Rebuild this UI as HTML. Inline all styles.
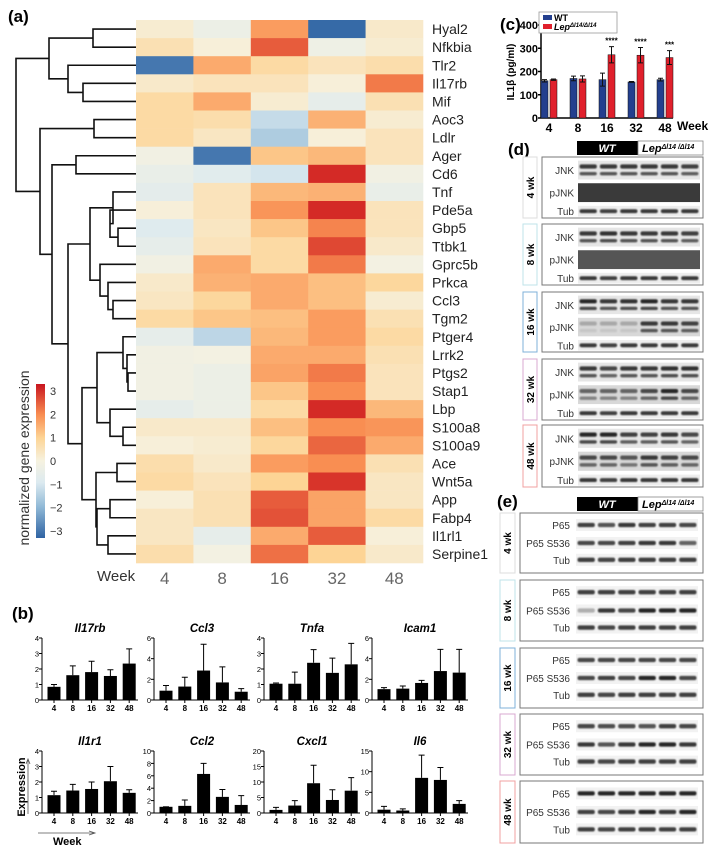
<!DOCTYPE html>
<html><head><meta charset="utf-8"><style>
html,body{margin:0;padding:0;background:#fff;}
svg{display:block;font-family:"Liberation Sans",Arial,sans-serif;}
</style></head><body>
<svg id="fig" width="714" height="853" viewBox="0 0 714 853" xmlns="http://www.w3.org/2000/svg">
<defs>
<linearGradient id="cbar" x1="0" y1="1" x2="0" y2="0">
<stop offset="0" stop-color="#2f63a3"/><stop offset="0.2" stop-color="#8fb8d6"/><stop offset="0.36" stop-color="#dceaf0"/><stop offset="0.5" stop-color="#f6f2e0"/><stop offset="0.65" stop-color="#fdd495"/><stop offset="0.8" stop-color="#f98e52"/><stop offset="1" stop-color="#c8151f"/>
</linearGradient>
<filter id="blur" x="-5%" y="-50%" width="110%" height="200%"><feGaussianBlur stdDeviation="0.8"/></filter>
</defs>
<g id="heat"></g>
<g id="barsB"></g>
<g id="chartC"></g>
<g id="blots"></g>
</svg>
<script>
const NS="http://www.w3.org/2000/svg";
function mk(p,tag,at,txt){const e=document.createElementNS(NS,tag);for(const k in at)e.setAttribute(k,at[k]);if(txt!==undefined)e.textContent=txt;p.appendChild(e);return e;}

// ===== Heatmap data =====
const genes=["Hyal2","Nfkbia","Tlr2","Il17rb","Mif","Aoc3","Ldlr","Ager","Cd6","Tnf","Pde5a","Gbp5","Ttbk1","Gprc5b","Prkca","Ccl3","Tgm2","Ptger4","Lrrk2","Ptgs2","Stap1","Lbp","S100a8","S100a9","Ace","Wnt5a","App","Fabp4","Il1rl1","Serpine1"];
const weeks=["4","8","16","32","48"];
const heatValues=[
[0.2,-0.4,1.8,-3.2,0.3],[0.6,0.1,2.5,-0.3,0.2],[-3.0,1.6,0.8,0.5,0.7],[0.3,0.5,0.5,0.1,2.2],
[0.8,1.6,0.2,-0.6,0.6],[0.8,0.7,-1.3,1.5,0.2],[0.8,0.4,-1.6,0.1,0.5],[-0.2,-3.0,1.2,1.4,0.5],
[-0.5,-0.8,-1.1,3.0,-0.2],[-0.7,0.5,1.4,1.5,-0.5],[0.1,0.5,1.9,3.0,0.5],[-0.9,0.4,1.2,2.1,0.5],
[-0.6,0.5,0.8,2.7,0.3],[-0.2,1.6,0.8,2.2,-0.1],[0.3,1.5,1.6,1.3,0.9],[0.4,0.9,1.6,1.3,0.2],
[0.8,1.2,1.3,1.8,0.6],[-0.6,-1.4,1.4,1.8,0.8],[-0.2,-0.1,1.6,1.6,0.6],[-0.2,-0.4,1.7,2.2,0.5],
[-0.2,-0.4,1.2,2.0,0.5],[-0.6,-0.4,0.8,3.0,1.4],[0.3,0.3,1.3,2.0,1.9],[0.1,0.2,0.9,2.4,1.6],
[0.7,0.3,1.8,2.0,0.6],[0.8,0.5,1.0,2.9,0.4],[0.1,0.6,2.5,1.7,0.4],[0.4,0.6,2.6,1.7,0.8],
[0.4,-0.6,1.6,2.5,0.1],[0.7,-0.1,2.3,1.0,0.3]];
const colorbarTicks=[3,2,1,0,-1,-2,-3];

const cStops=[[-3.3,[47,99,163]],[-2,[143,184,214]],[-1,[220,234,240]],[0,[246,242,224]],[1,[253,212,149]],[2,[249,142,82]],[3,[212,42,38]],[3.3,[200,21,31]]];
function cmap(v){v=Math.max(-3.3,Math.min(3.3,v));for(let i=0;i<cStops.length-1;i++){const a=cStops[i],b=cStops[i+1];if(v<=b[0]){const t=(v-a[0])/(b[0]-a[0]);return "rgb("+a[1].map((c,j)=>Math.round(c+(b[1][j]-c)*t)).join(",")+")";}}return "rgb(200,21,31)";}
const hx0=136,hx1=423,hy0=20,hy1=563;
const cw=(hx1-hx0)/weeks.length, rh=(hy1-hy0)/genes.length;
const heat=document.getElementById("heat");
mk(heat,"text",{x:8,y:22,"font-size":17,"font-weight":"bold",},"(a)");
heatValues.forEach((row,r)=>{row.forEach((v,c)=>{
 const e=mk(heat,"rect",{x:hx0+c*cw,y:hy0+r*rh,width:cw+0.3,height:rh+0.3,fill:cmap(v)});
 
 
});
 const t=mk(heat,"text",{x:432,y:hy0+r*rh+rh/2+5,"font-size":14,fill:"#222"},genes[r]);
 
 
});
mk(heat,"text",{x:97,y:581,"font-size":15,fill:"#333",},"Week");
weeks.forEach((w,c)=>{const t=mk(heat,"text",{x:hx0+c*cw+cw/2,y:584,"font-size":17,fill:"#666","text-anchor":"middle"},w);
 
 });
// colorbar
const cbTop=384,cbBot=538,cbScale=(cbBot-cbTop)/6.6;
mk(heat,"rect",{x:36,y:cbTop,width:9,height:cbBot-cbTop,fill:"url(#cbar)",});
colorbarTicks.forEach(v=>{const y=cbBot-(v+3.3)*cbScale;const t=mk(heat,"text",{x:50,y:y+4,"font-size":11,fill:"#333"},v<0?"\u2212"+(-v):String(v));
 
 });
mk(heat,"text",{x:0,y:0,"font-size":14,fill:"#333","text-anchor":"middle",transform:"translate(29,458) rotate(-90)",},"normalized gene expression");
// dendrogram
const A=[90,[113,9,[110,10,[118,11,12]]],[100,13,[108,14,[113,15,16]]]];
const Bg=[82,[97,[123,17,[127,18,[128,19,20]]],[110,21,[123,22,23]]],[96,[117,24,25],[97,[110,26,27],[108,28,29]]]];
const tree=[16,
 [49,[93,0,1],[68,2,[83,3,4]]],
 [40,[94,5,6],[52,[76,7,8],[68,A,Bg]]]];
const dg=mk(heat,"g",{stroke:"#111","stroke-width":1.6,fill:"none",});
function dd(n){if(typeof n==="number")return{x:hx0,y:hy0+n*rh+rh/2};const a=dd(n[1]),b=dd(n[2]);
 mk(dg,"path",{d:`M${a.x},${a.y}H${n[0]}V${b.y}H${b.x}`});return{x:n[0],y:(a.y+b.y)/2};}
dd(tree);

// ===== Panel b =====
const bTitles=["Il17rb","Ccl3","Tnfa","Icam1","Il1r1","Ccl2","Cxcl1","Il6"];
const bMeans=[[0.85,1.6,1.8,1.55,2.35],[0.9,1.3,2.85,1.7,0.8],[1.05,1.05,2.4,1.75,2.3],[1.05,1.1,1.65,2.8,2.65],
 [1.15,1.45,1.55,2.05,1.3],[1.0,1.15,6.3,2.6,1.3],[1.0,2.4,9.6,4.2,7.2],[0.8,0.6,8.5,8.0,2.2]];
const bErrTop=[[1.0,2.2,2.5,1.95,3.3],[1.4,2.2,5.4,3.2,1.1],[1.1,1.8,3.25,2.7,3.65],[1.2,1.35,1.9,4.9,4.9],
 [1.4,1.85,2.0,3.0,1.5],[1.0,2.1,8.0,3.8,2.8],[1.8,4.0,15.4,7.5,11.4],[1.6,1.0,14.0,11.0,3.0]];
const bTicks=[[0,1,2,3,4],[0,2,4,6],[0,1,2,3,4],[0,2,4,6],[0,1,2,3,4],[0,2,4,6,8,10],[0,5,10,15,20],[0,5,10,15]];
const bG=document.getElementById("barsB");
mk(bG,"text",{x:12,y:619,"font-size":17,"font-weight":"bold",},"(b)");
const bX=[42,154,264,372];
bTitles.forEach((ti,k)=>{
 const x0=bX[k%4], top=k<4?638:751, base=k<4?700:813, w=96;
 const g=mk(bG,"g",{});
 
 
 const max=bTicks[k][bTicks[k].length-1];
 const ys=v=>base-(v/max)*(base-top);
 mk(g,"text",{x:x0+w/2,y:top-6,"font-size":11.5,"font-weight":"bold","font-style":"italic","text-anchor":"middle"},ti);
 mk(g,"line",{x1:x0,y1:top,x2:x0,y2:base,stroke:"#000","stroke-width":1});
 mk(g,"line",{x1:x0,y1:base,x2:x0+w,y2:base,stroke:"#000","stroke-width":1});
 bTicks[k].forEach(v=>{mk(g,"line",{x1:x0-3,y1:ys(v),x2:x0,y2:ys(v),stroke:"#000"});
  mk(g,"text",{x:x0-3,y:ys(v)+3,"font-size":7.5,"text-anchor":"end"},v);});
 weeks.forEach((wk,i)=>{const cx=x0+12+i*18.8;
  const bar=mk(g,"rect",{x:cx-6.5,y:ys(bMeans[k][i]),width:13,height:base-ys(bMeans[k][i]),fill:"#000"});
  
  
  mk(g,"path",{d:`M${cx},${ys(bMeans[k][i])}V${ys(bErrTop[k][i])}M${cx-3},${ys(bErrTop[k][i])}H${cx+3}`,stroke:"#000","stroke-width":1,fill:"none"});
  mk(g,"line",{x1:cx,y1:base,x2:cx,y2:base+3,stroke:"#000"});
  mk(g,"text",{x:cx,y:base+11,"font-size":8,"font-weight":"bold","text-anchor":"middle"},wk);
 });
});
mk(bG,"text",{x:0,y:0,"font-size":11,"font-weight":"bold","text-anchor":"middle",transform:"translate(25,787) rotate(-90)",},"Expression");
mk(bG,"path",{d:"M28,814V760M26,764L28,759L30,764",stroke:"#555",fill:"none","stroke-width":0.8,});
mk(bG,"path",{d:"M38,833H94M89,831L95,833L89,835",stroke:"#555",fill:"none","stroke-width":0.8,});
mk(bG,"text",{x:53,y:845,"font-size":11,"font-weight":"bold",},"Week");

// ===== Panel c =====
const cWeeks=["4","8","16","32","48"];
const cWT=[160,170,165,155,165];
const cLep=[165,168,272,270,260];
const cWTerr=[5,10,28,2,6];
const cLepErr=[3,13,35,33,30];
const cStars=["","","****","****","***"];
const cTicks=[0,100,200,300,400];
const C=document.getElementById("chartC");
const cx0=541,cx1=673,cb=118,ct=25;
const cy=v=>cb-v/400*(cb-ct);
const gx=i=>549+i*29;
mk(C,"text",{x:500,y:30,"font-size":17,"font-weight":"bold",},"(c)");
mk(C,"text",{x:0,y:0,"font-size":10,"font-weight":"bold","text-anchor":"middle",transform:"translate(514,72) rotate(-90)",},"IL1β (pg/ml)");
mk(C,"line",{x1:cx0,y1:ct,x2:cx0,y2:cb,stroke:"#000","stroke-width":1.5});
mk(C,"line",{x1:cx0,y1:cb,x2:cx1,y2:cb,stroke:"#000","stroke-width":1.5});
cTicks.forEach(v=>{mk(C,"line",{x1:cx0-3,y1:cy(v),x2:cx0,y2:cy(v),stroke:"#000","stroke-width":1.5});
 const t=mk(C,"text",{x:cx0-3,y:cy(v)+4,"font-size":11,"font-weight":"bold","text-anchor":"end"},v);
 
 });
cWeeks.forEach((w,i)=>{const c=gx(i);
 const a=mk(C,"rect",{x:c-8,y:cy(cWT[i]),width:7,height:cb-cy(cWT[i]),fill:"#233f8e",stroke:"#111","stroke-width":0.5});
 
 
 const b=mk(C,"rect",{x:c+1,y:cy(cLep[i]),width:7,height:cb-cy(cLep[i]),fill:"#e0202c",stroke:"#111","stroke-width":0.5});
 
 
 [[c-4.5,cWT[i],cWTerr[i]],[c+4.5,cLep[i],cLepErr[i]]].forEach(([x,m,e])=>mk(C,"path",{d:`M${x},${cy(m-e)}V${cy(m+e)}M${x-2.5},${cy(m-e)}H${x+2.5}M${x-2.5},${cy(m+e)}H${x+2.5}`,stroke:"#111","stroke-width":1,fill:"none"}));
 if(cStars[i])mk(C,"text",{x:c+4.5,y:cy(cLep[i]+cLepErr[i])-3,"font-size":8,"font-weight":"bold","text-anchor":"middle"},cStars[i]);
 mk(C,"text",{x:c,y:132,"font-size":12,"font-weight":"bold","text-anchor":"middle"},w);
});
mk(C,"text",{x:677,y:130,"font-size":12,"font-weight":"bold",},"Week");
mk(C,"rect",{x:539,y:12,width:78,height:21,fill:"#fff",stroke:"#999","stroke-width":0.8,});
mk(C,"rect",{x:543,y:15,width:9,height:5,fill:"#233f8e"});
mk(C,"text",{x:554,y:21,"font-size":9,"font-weight":"bold"},"WT");
mk(C,"rect",{x:543,y:24,width:9,height:5,fill:"#e0202c"});
const lt=mk(C,"text",{x:554,y:30,"font-size":9,"font-weight":"bold","font-style":"italic"},"Lep");
mk(lt,"tspan",{"font-size":6,dy:-3},"Δl14/Δl14");

// ===== Blots =====
const B=document.getElementById("blots");
function header(y,name){
 mk(B,"rect",{x:577,y:y,width:61,height:14,fill:"#000",});
 mk(B,"text",{x:607,y:y+11,"font-size":11,"font-weight":"bold","font-style":"italic",fill:"#fff","text-anchor":"middle"},"WT");
 mk(B,"rect",{x:638,y:y,width:65,height:14,fill:"#fff",stroke:"#888","stroke-width":0.8});
 const t=mk(B,"text",{x:642,y:y+11,"font-size":11,"font-weight":"bold","font-style":"italic"},"Lep");
 mk(t,"tspan",{"font-size":7,dy:-3},"Δl14 /Δl14");
}
function strip(x,y,w,h,bg,ints,dbl){
 mk(B,"rect",{x:x,y:y,width:w,height:h,fill:bg});
 const lw=w/6;
 ints.forEach((v,i)=>{const g=Math.round(40+(1-v)*150);
  const band=mk(B,"rect",{x:x+i*lw+1.5,y:y+h/2-(dbl?h*0.3:h*0.18),width:lw-3,height:dbl?h*0.22:h*0.36,rx:2,fill:`rgb(${g},${g},${g})`,filter:"url(#blur)"});
  
  
  if(dbl)mk(B,"rect",{x:x+i*lw+1.5,y:y+h/2+h*0.1,width:lw-3,height:h*0.18,rx:2,fill:`rgb(${g+30},${g+30},${g+30})`,filter:"url(#blur)"});
 });
}
mk(B,"text",{x:508,y:155,"font-size":17,"font-weight":"bold",},"(d)");
header(141,"d");
const dPanels=[["4 wk",157,218,"#ddd"],["8 wk",224,285,"#bfe3ea"],["16 wk",292,352,"#7fb0d8"],["32 wk",359,420,"#d8a8d0"],["48 wk",425,487,"#f0a0a0"]];
const jnkI=[[0.9,0.9,0.9,0.9,0.9,0.85],[0.9,0.95,0.9,0.9,0.9,0.85],[1,0.9,0.95,1,0.9,0.9],[0.9,0.8,0.9,0.9,0.95,0.95],[1,1,0.85,0.85,0.9,0.8]];
const pjnkI=[[0.4,0.4,0.4,0.4,0.4,0.4],[0.2,0.2,0.2,0.2,0.2,0.2],[0.15,0.15,0.15,0.9,0.9,0.85],[0.6,0.6,0.6,0.8,1,0.8],[0.8,0.8,0.7,0.9,0.85,0.8]];
dPanels.forEach(([lab,y0,y1,col],k)=>{
 const h=y1-y0;
 mk(B,"rect",{x:523,y:y0,width:14,height:h,fill:"#fff",stroke:col,"stroke-width":1,});
 mk(B,"text",{x:0,y:0,"font-size":10,"font-weight":"bold","text-anchor":"middle",transform:`translate(534,${y0+h/2}) rotate(-90)`},lab);
 mk(B,"rect",{x:542,y:y0,width:161,height:h,fill:"#fff",stroke:"#777","stroke-width":1,});
 const r=h/3.4;
 [["JNK",y0+h*0.06,r*1.05,jnkI[k],true,"#e6e6e6"],["pJNK",y0+h*0.43,r*1.05,pjnkI[k],k>=2,k<2?"#555":"#d8d8d8"],["Tub",y0+h*0.8,r*0.6,[0.9,0.85,0.9,0.9,0.9,0.9],false,"#eee"]].forEach(([n,sy,sh,ints,dbl,bg])=>{
  mk(B,"text",{x:574,y:sy+sh/2+4,"font-size":10,"text-anchor":"end",fill:"#333"},n);
  if(k<2&&n==="pJNK")mk(B,"rect",{x:578,y:sy,width:122,height:sh,fill:k==0?"#3a3a3a":"#555"});else strip(578,sy,122,sh,bg,ints,dbl);
 });
});
mk(B,"text",{x:497,y:507,"font-size":17,"font-weight":"bold",},"(e)");
header(497,"e");
const ePanels=[["4 wk",513,573,"#ddd"],["8 wk",580,641,"#bfe3ea"],["16 wk",648,708,"#7fb0d8"],["32 wk",714,775,"#d8a8d0"],["48 wk",781,843,"#f0a0a0"]];
const p65I=[[0.85,0.7,0.9,0.85,0.85,0.8],[0.85,0.85,0.85,0.85,0.85,0.85],[0.8,0.8,0.8,0.8,0.8,0.8],[0.8,0.75,0.75,0.7,0.85,0.8],[1,1,1,1,1,1]];
const sI=[[0.8,0.8,0.85,0.9,0.9,0.6],[0.1,0.9,0.8,1,1,1],[0.8,0.85,0.8,1,1,0.8],[0.9,0.7,0.9,1,1,0.9],[0.85,0.8,0.9,1,0.9,1]];
ePanels.forEach(([lab,y0,y1,col],k)=>{
 const h=y1-y0;
 mk(B,"rect",{x:500,y:y0,width:15,height:h,fill:"#fff",stroke:col,"stroke-width":1,});
 mk(B,"text",{x:0,y:0,"font-size":10,"font-weight":"bold","text-anchor":"middle",transform:`translate(511,${y0+h/2}) rotate(-90)`},lab);
 mk(B,"rect",{x:520,y:y0,width:183,height:h,fill:"#fff",stroke:"#777","stroke-width":1,});
 [["P65",y0+h*0.2,p65I[k]],["P65 S536",y0+h*0.5,sI[k]],["Tub",y0+h*0.78,[0.85,0.8,0.85,0.85,0.85,0.85]]].forEach(([n,yc,ints])=>{
  mk(B,"text",{x:570,y:yc+4,"font-size":10,"text-anchor":"end",fill:"#333"},n);
  strip(576,yc-6,122,12,"#f2f2f2",ints,false);
 });
});
</script>
</body></html>
